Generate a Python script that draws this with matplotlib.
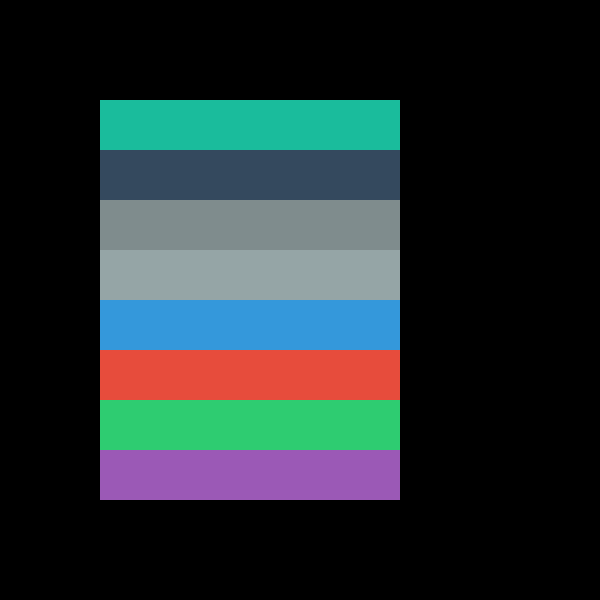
import matplotlib
matplotlib.use("Agg")
import matplotlib.pyplot as plt

colors = ["#1abc9c", "#34495e", "#7f8c8d", "#95a5a6",
          "#3498db", "#e74c3c", "#2ecc71", "#9b59b6"]
widths = [1, 1, 1, 1, 1, 1, 1, 1]
positions = list(range(len(colors)))

fig = plt.figure(figsize=(6, 6), dpi=100, facecolor="black")
ax = fig.add_axes([100/600, 100/600, 300/600, 400/600])
ax.set_facecolor("black")
ax.barh(positions, widths, height=1.0, color=colors, edgecolor="none", left=0)
ax.set_xlim(0, 1)
ax.set_ylim(len(colors) - 0.5, -0.5)
ax.axis("off")
fig.savefig("out.png", dpi=100, facecolor="black")
